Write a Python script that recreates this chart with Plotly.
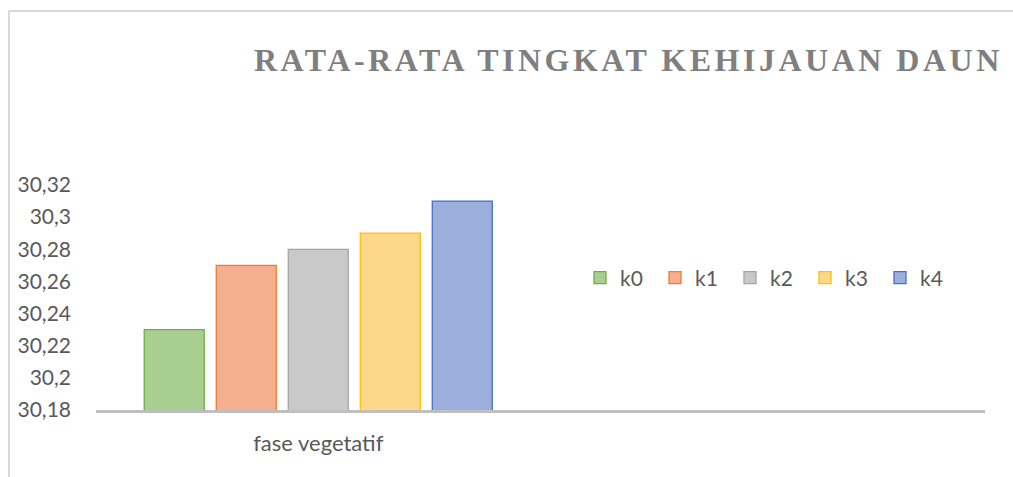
import plotly.graph_objects as go

categories = ["fase vegetatif"]
series_names = ["k0", "k1", "k2", "k3", "k4"]
series_values = [30.23, 30.27, 30.28, 30.29, 30.31]
fill_colors = ["#A9CF90", "#F5AF8E", "#C9C9C9", "#FED88A", "#9BAEDC"]
line_colors = ["#70AD47", "#ED7D31", "#A5A5A5", "#FFC000", "#4472C4"]
tick_vals = [30.18, 30.20, 30.22, 30.24, 30.26, 30.28, 30.30, 30.32]
tick_text = ["30,18", "30,2", "30,22", "30,24", "30,26", "30,28", "30,3", "30,32"]
title_text = "RATA-RATA TINGKAT KEHIJAUAN DAUN"

W, H = 1013, 477
# plot area in page pixels
L, R, T, B = 96, 985, 185, 410

fig = go.Figure()
for name, val, fc, lc in zip(series_names, series_values, fill_colors, line_colors):
    fig.add_trace(go.Bar(
        x=categories, y=[val], name=name,
        marker=dict(color=fc, line=dict(color=lc, width=1.3)),
    ))

pw, ph = R - L, B - T
def px_x(x):
    return (x - L) / pw
def px_y(y):
    return (B - y) / ph

fig.update_layout(
    width=W, height=H,
    margin=dict(l=L, r=W - R, t=T, b=H - B, pad=0),
    paper_bgcolor="white", plot_bgcolor="white",
    barmode="group", bargap=0.19, bargroupgap=0.167,
    separators=", ",
    font=dict(family="Lato, Open Sans, sans-serif", color="#595959", size=21),
    showlegend=True,
    legend=dict(
        orientation="h", x=px_x(580), y=px_y(278), xanchor="left", yanchor="middle",
        font=dict(size=21, color="#595959"), bgcolor="rgba(0,0,0,0)",
        entrywidth=30, entrywidthmode="pixels", traceorder="normal",
    ),
    xaxis=dict(
        type="category", range=[-0.5, 1.5],
        showline=True, linecolor="#BFBFBF", linewidth=3,
        showgrid=False, zeroline=False, ticks="", ticklabelstandoff=12,
        tickfont=dict(size=22, color="#595959"),
    ),
    yaxis=dict(
        range=[30.18, 30.32], tickvals=tick_vals, ticktext=tick_text,
        showgrid=False, zeroline=False, showline=False, ticks="",
        ticklabelstandoff=24, tickfont=dict(size=21, color="#595959"),
    ),
    annotations=[dict(
        text='<span style="letter-spacing:3.5px">' + title_text + '</span>',
        xref="paper", yref="paper", x=px_x(252), y=px_y(60),
        xanchor="left", yanchor="middle", showarrow=False,
        font=dict(family="Liberation Serif, serif", size=32, color="#7F7F7F", weight="bold"),
    )],
    shapes=[
        dict(type="line", xref="paper", yref="paper", x0=px_x(9), x1=px_x(1030),
             y0=px_y(11), y1=px_y(11), line=dict(color="#D9D9D9", width=2)),
        dict(type="line", xref="paper", yref="paper", x0=px_x(9), x1=px_x(9),
             y0=px_y(11), y1=px_y(500), line=dict(color="#D9D9D9", width=2)),
    ],
)

fig.write_html(
    "out.html",
    config={"displayModeBar": False},
    post_script="document.body.style.margin='0';document.body.style.overflow='hidden';",
)
